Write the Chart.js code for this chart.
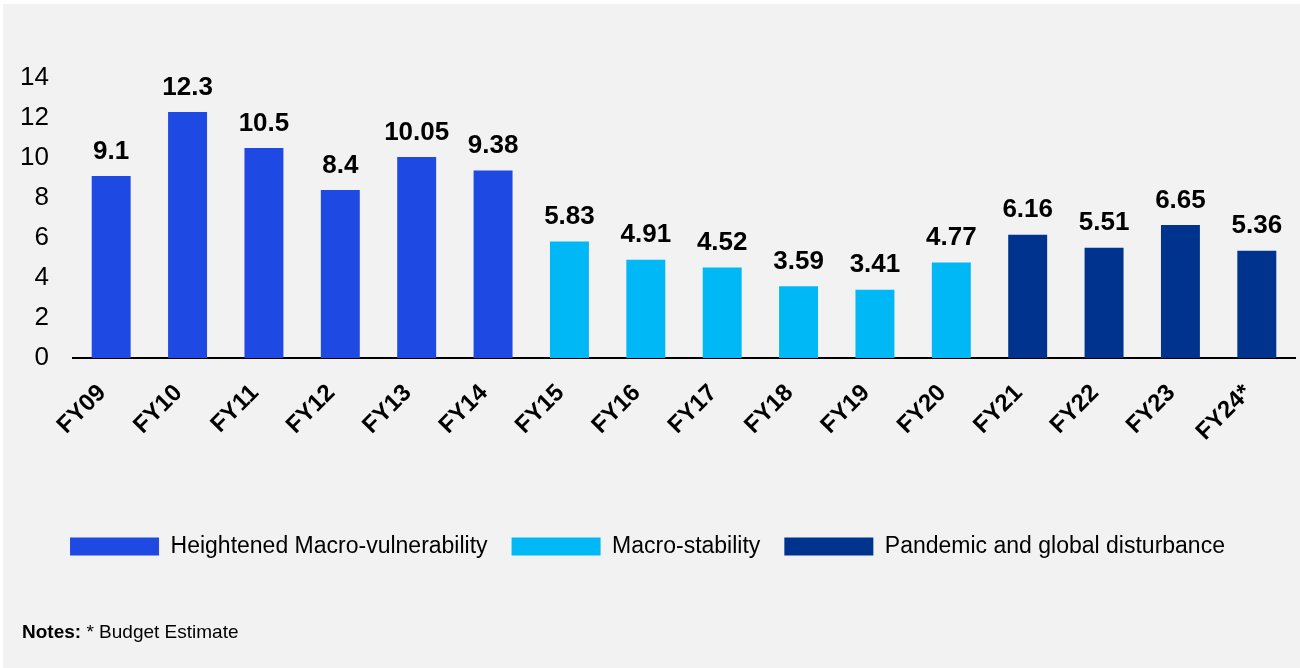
<!DOCTYPE html>
<html>
<head>
<meta charset="utf-8">
<script src="https://cdn.jsdelivr.net/npm/chart.js@4.4.1/dist/chart.umd.min.js"></script>
<style>
  html, body { margin: 0; padding: 0; background: #ffffff; }
  body { width: 1300px; height: 668px; position: relative; overflow: hidden; }
  #panel { position: absolute; left: 3px; top: 4px; right: 0; bottom: 0; background: #f2f2f2; }
  #wrap { position: absolute; left: 0; top: 0; width: 1300px; height: 668px; }
  #note { position: absolute; left: 22px; top: 622px; font: 19px/19px "Liberation Sans", Arial, sans-serif; color: #000; white-space: nowrap; }
  #note b { font-weight: bold; }
</style>
</head>
<body>
<div id="panel"></div>
<div id="wrap"><canvas id="chart" width="1300" height="668"></canvas></div>
<div id="note"><b>Notes:</b> * Budget Estimate</div>
<script>
// Fiscal years and their values
const categories = ['FY09', 'FY10', 'FY11', 'FY12', 'FY13', 'FY14', 'FY15', 'FY16',
                    'FY17', 'FY18', 'FY19', 'FY20', 'FY21', 'FY22', 'FY23', 'FY24*'];
const values = [9.1, 12.3, 10.5, 8.4, 10.05, 9.38, 5.83, 4.91,
                4.52, 3.59, 3.41, 4.77, 6.16, 5.51, 6.65, 5.36];
// Which period each year belongs to (index into periodNames)
const periodOfYear = [0, 0, 0, 0, 0, 0, 1, 1, 1, 1, 1, 1, 2, 2, 2, 2];
const periodNames = ['Heightened Macro-vulnerability', 'Macro-stability', 'Pandemic and global disturbance'];
const periodColors = ['#1e49e2', '#00b8f5', '#00338d'];
const yTicks = [0, 2, 4, 6, 8, 10, 12, 14];

const FONT = '"Liberation Sans", Arial, Helvetica, sans-serif';

// Writes each bar's value above it
const valueLabels = {
  id: 'valueLabels',
  afterDatasetsDraw(chart) {
    const ctx = chart.ctx;
    const meta = chart.getDatasetMeta(0);
    ctx.save();
    ctx.font = 'bold 26px ' + FONT;
    ctx.fillStyle = '#000';
    ctx.textAlign = 'center';
    ctx.textBaseline = 'alphabetic';
    meta.data.forEach((bar, i) => {
      ctx.fillText(String(values[i]), bar.x, bar.y - 17.5);
    });
    ctx.restore();
  }
};

new Chart(document.getElementById('chart'), {
  type: 'bar',
  data: {
    labels: categories,
    datasets: [{
      data: values,
      backgroundColor: periodOfYear.map(p => periodColors[p]),
      borderWidth: 0,
      categoryPercentage: 1,
      barPercentage: 0.51
    }]
  },
  options: {
    responsive: false,
    animation: false,
    layout: { padding: { top: 78, left: 0, right: 5, bottom: 100 } },
    plugins: {
      tooltip: { enabled: false },
      legend: {
        display: true,
        position: 'bottom',
        onClick: null,
        labels: {
          boxWidth: 89,
          boxHeight: 18,
          padding: 24,
          color: '#000',
          font: { family: FONT, size: 23 },
          generateLabels: () => periodNames.map((name, i) => ({
            text: name,
            fillStyle: periodColors[i],
            strokeStyle: periodColors[i],
            lineWidth: 0,
            fontColor: '#000',
            hidden: false,
            datasetIndex: 0
          }))
        }
      }
    },
    scales: {
      x: {
        grid: { display: false, drawTicks: false },
        border: { display: true, color: '#000', width: 2 },
        ticks: {
          color: '#000',
          font: { family: FONT, size: 24, weight: 'bold' },
          minRotation: 45,
          maxRotation: 45,
          autoSkip: false,
          padding: 21,
          labelOffset: -9
        },
        afterFit(scale) { scale.height = 153; }
      },
      y: {
        min: 0,
        max: 14,
        grid: { display: false, drawTicks: false },
        border: { display: false },
        afterBuildTicks(scale) { scale.ticks = yTicks.map(v => ({ value: v })); },
        ticks: {
          color: '#000',
          font: { family: FONT, size: 26 },
          padding: 24
        },
        afterFit(scale) { scale.width = 73; }
      }
    }
  },
  plugins: [valueLabels]
});
</script>
</body>
</html>
